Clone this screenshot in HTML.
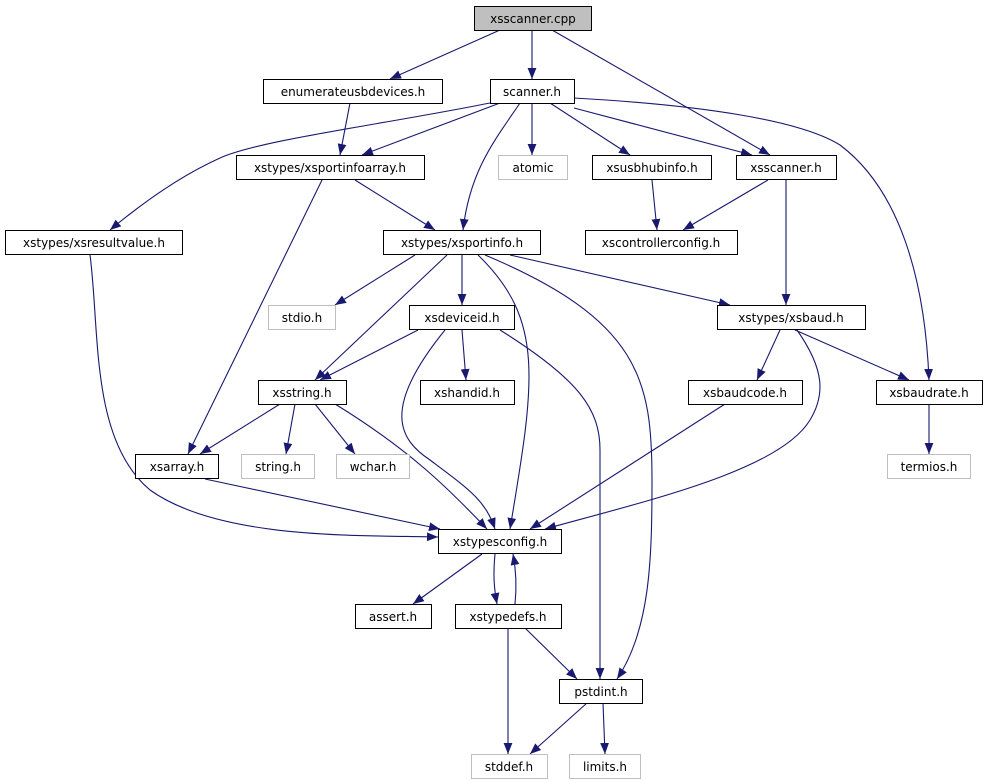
<!DOCTYPE html>
<html><head><meta charset="utf-8"><style>
html,body{margin:0;padding:0;background:#fff;}
svg{display:block;}
text{font-family:"DejaVu Sans","Liberation Sans",sans-serif;font-size:12px;fill:#000;text-anchor:middle;}
.n{fill:#fff;stroke:#000;stroke-width:1;}
.g{fill:#fff;stroke:#bfbfbf;stroke-width:1;}
.e{fill:none;stroke:#191970;stroke-width:1.1;marker-end:url(#a);}
</style></head><body>
<svg width="989" height="784" viewBox="0 0 989 784">
<defs><marker id="a" viewBox="0 0 10 10" refX="10" refY="5" markerWidth="11" markerHeight="11" markerUnits="userSpaceOnUse" orient="auto"><path d="M0,1 L10,5 L0,9 z" fill="#191970"/></marker></defs>
<g>
<path class="e" d="M500,30 L390,79"/>
<path class="e" d="M532,30 L532,79"/>
<path class="e" d="M552,30 L770,155"/>
<path class="e" d="M350,103 L340,155"/>
<path class="e" d="M490,103 C380,125 260,140 220,158 C180,176 140,205 110,230"/>
<path class="e" d="M500,103 L362,155"/>
<path class="e" d="M520,103 C495,140 470,170 463,230"/>
<path class="e" d="M532,103 L532,155"/>
<path class="e" d="M550,103 L630,155"/>
<path class="e" d="M574,108 L752,155"/>
<path class="e" d="M574,98 C700,105 800,120 840,145 C900,190 925,280 929,380"/>
<path class="e" d="M355,180 L435,230"/>
<path class="e" d="M322,180 L188,454"/>
<path class="e" d="M652,180 L657,230"/>
<path class="e" d="M768,180 L683,230"/>
<path class="e" d="M786,180 L786,305"/>
<path class="e" d="M90,255 C100,330 90,440 150,490 C220,540 360,535 438,537"/>
<path class="e" d="M415,255 L335,305"/>
<path class="e" d="M462,255 L462,305"/>
<path class="e" d="M447,255 L315,380"/>
<path class="e" d="M478,255 C545,320 535,380 510,529"/>
<path class="e" d="M485,255 C640,320 652,380 652,480 C652,560 650,630 617,679"/>
<path class="e" d="M510,255 L730,305"/>
<path class="e" d="M418,330 L320,380"/>
<path class="e" d="M462,330 L466,380"/>
<path class="e" d="M445,330 C380,410 400,440 430,460 C470,490 485,500 495,529"/>
<path class="e" d="M500,330 C580,380 600,410 600,450 L600,679"/>
<path class="e" d="M780,330 L757,380"/>
<path class="e" d="M795,330 L909,380"/>
<path class="e" d="M797,330 C825,370 825,395 810,420 C780,470 650,500 545,529"/>
<path class="e" d="M929,404 L929,454"/>
<path class="e" d="M280,404 L200,454"/>
<path class="e" d="M295,404 L286,454"/>
<path class="e" d="M315,404 L355,454"/>
<path class="e" d="M335,404 C410,450 450,490 487,529"/>
<path class="e" d="M725,404 L530,529"/>
<path class="e" d="M205,479 L440,529"/>
<path class="e" d="M482,554 L413,604"/>
<path class="e" d="M495,554 C493,575 494,588 497,604"/>
<path class="e" d="M515,604 C517,585 516,570 513,554"/>
<path class="e" d="M508,628 L508,754"/>
<path class="e" d="M525,628 L577,679"/>
<path class="e" d="M587,703 L530,754"/>
<path class="e" d="M603,703 L605,754"/>
</g>
<g>
<rect x="474.5" y="6.5" width="117" height="24" fill="#bfbfbf" stroke="#000"/><text x="533" y="23">xsscanner.cpp</text>
<rect class="n" x="263.5" y="79.5" width="179" height="24"/><text x="353" y="96">enumerateusbdevices.h</text>
<rect class="n" x="490.5" y="79.5" width="84" height="24"/><text x="532" y="96">scanner.h</text>
<rect class="n" x="236.5" y="155.5" width="188" height="24"/><text x="330" y="172">xstypes/xsportinfoarray.h</text>
<rect class="g" x="498.5" y="155.5" width="69" height="24"/><text x="533" y="172">atomic</text>
<rect class="n" x="592.5" y="155.5" width="119" height="24"/><text x="652" y="172">xsusbhubinfo.h</text>
<rect class="n" x="736.5" y="155.5" width="100" height="24"/><text x="786" y="172">xsscanner.h</text>
<rect class="n" x="5.5" y="230.5" width="177" height="24"/><text x="94" y="247">xstypes/xsresultvalue.h</text>
<rect class="n" x="383.5" y="230.5" width="157" height="24"/><text x="462" y="247">xstypes/xsportinfo.h</text>
<rect class="n" x="585.5" y="230.5" width="152" height="24"/><text x="661" y="247">xscontrollerconfig.h</text>
<rect class="g" x="268.5" y="305.5" width="67" height="24"/><text x="302" y="322">stdio.h</text>
<rect class="n" x="409.5" y="305.5" width="105" height="24"/><text x="462" y="322">xsdeviceid.h</text>
<rect class="n" x="717.5" y="305.5" width="148" height="24"/><text x="791" y="322">xstypes/xsbaud.h</text>
<rect class="n" x="258.5" y="380.5" width="88" height="24"/><text x="302" y="397">xsstring.h</text>
<rect class="n" x="420.5" y="380.5" width="94" height="24"/><text x="467" y="397">xshandid.h</text>
<rect class="n" x="688.5" y="380.5" width="114" height="24"/><text x="745" y="397">xsbaudcode.h</text>
<rect class="n" x="876.5" y="380.5" width="106" height="24"/><text x="929" y="397">xsbaudrate.h</text>
<rect class="n" x="135.5" y="454.5" width="83" height="24"/><text x="177" y="471">xsarray.h</text>
<rect class="g" x="241.5" y="454.5" width="73" height="24"/><text x="278" y="471">string.h</text>
<rect class="g" x="336.5" y="454.5" width="73" height="24"/><text x="373" y="471">wchar.h</text>
<rect class="g" x="887.5" y="454.5" width="83" height="24"/><text x="929" y="471">termios.h</text>
<rect class="n" x="438.5" y="529.5" width="123" height="24"/><text x="500" y="546">xstypesconfig.h</text>
<rect class="n" x="355.5" y="604.5" width="76" height="24"/><text x="393" y="621">assert.h</text>
<rect class="n" x="455.5" y="604.5" width="106" height="24"/><text x="508" y="621">xstypedefs.h</text>
<rect class="n" x="559.5" y="679.5" width="83" height="24"/><text x="601" y="696">pstdint.h</text>
<rect class="g" x="471.5" y="754.5" width="76" height="24"/><text x="509" y="771">stddef.h</text>
<rect class="g" x="569.5" y="754.5" width="71" height="24"/><text x="605" y="771">limits.h</text>
</g>
</svg>
</body></html>
